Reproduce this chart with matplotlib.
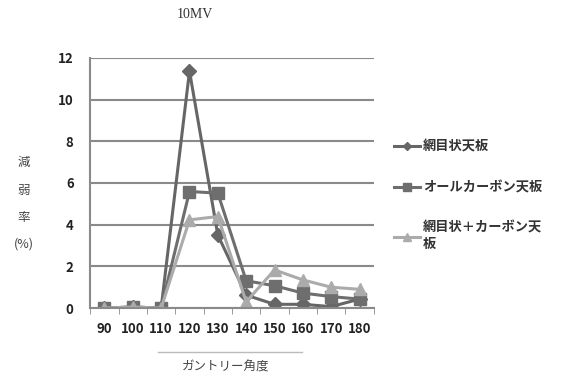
import matplotlib
matplotlib.use("Agg")
import matplotlib.pyplot as plt
import numpy as np

plt.rcParams['font.family'] = ['Noto Sans CJK JP', 'DejaVu Sans']

angles = ["90", "100", "110", "120", "130", "140", "150", "160", "170", "180"]
mesh = [0.0, 0.05, 0.0, 11.36, 3.5, 0.62, 0.18, 0.18, 0.07, 0.43]
carbon = [0.0, 0.05, 0.0, 5.59, 5.51, 1.31, 1.07, 0.72, 0.55, 0.43]
mesh_carbon = [0.0, 0.05, 0.0, 4.23, 4.39, 0.3, 1.83, 1.35, 1.0, 0.9]
series_names = ["網目状天板", "オールカーボン天板", "網目状＋カーボン天\n板"]
y_ticks = [0, 2, 4, 6, 8, 10, 12]

fig = plt.figure(figsize=(5.75, 3.78), dpi=100)
ax = fig.add_axes([0.157, 0.185, 0.493, 0.662])

x = np.arange(len(angles))
styles = [
    (mesh, "D", "#666666", 7),
    (carbon, "s", "#6e6e6e", 9),
    (mesh_carbon, "^", "#ababab", 9),
]
handles = []
for (vals, mk, col, ms), name in zip(styles, series_names):
    h, = ax.plot(x, vals, marker=mk, color=col, lw=2.2, ms=ms, label=name,
                 markeredgecolor=col)
    handles.append(h)

ax.set_xlim(-0.5, len(angles) - 0.5)
ax.set_ylim(0, 12)
ax.set_yticks(y_ticks)
ax.yaxis.grid(True, color="#8a8a8a", lw=1.5)
ax.set_axisbelow(True)
ax.set_xticks(x)
ax.set_xticklabels(angles)
ax.set_xticks(np.arange(-0.5, len(angles), 1), minor=True)
ax.tick_params(axis="x", which="major", length=0, pad=10, labelsize=9.5, labelcolor="#222222")
ax.tick_params(axis="x", which="minor", length=4, direction="out", color="#888888")
ax.tick_params(axis="y", length=0, pad=12, labelsize=9.5, labelcolor="#222222")
for lbl in ax.get_xticklabels() + ax.get_yticklabels():
    lbl.set_fontweight("bold")
for side in ("top", "right"):
    ax.spines[side].set_visible(False)
ax.spines["left"].set_color("#8a8a8a")
ax.spines["left"].set_linewidth(1.5)
ax.spines["bottom"].set_color("#8a8a8a")
ax.spines["bottom"].set_linewidth(1.5)

fig.text(195 / 575, 1 - 15 / 378, "10MV", family="Liberation Serif",
         fontsize=10, color="#333333", ha="center", va="center")

for ch, yy in zip(["減", "弱", "率", "(%)"], [162, 190, 218, 244]):
    fig.text(24 / 575, 1 - yy / 378, ch, fontsize=9, color="#444444",
             ha="center", va="center")

fig.add_artist(plt.Line2D([158 / 575, 302 / 575], [1 - 352 / 378] * 2,
                          color="#bbbbbb", lw=1))
fig.text(226 / 575, 1 - 367 / 378, "ガントリー角度", fontsize=9, color="#444444",
         ha="center", va="center")

leg = fig.legend(handles=handles, loc="upper left",
                 bbox_to_anchor=(382 / 575, 1 - 128 / 378), frameon=False,
                 handlelength=2.0, handletextpad=0.2, labelspacing=2.0,
                 markerscale=0.6, prop={"size": 9.5, "weight": "bold"})
for t in leg.get_texts():
    t.set_color("#333333")

fig.savefig("out.png", dpi=100)
